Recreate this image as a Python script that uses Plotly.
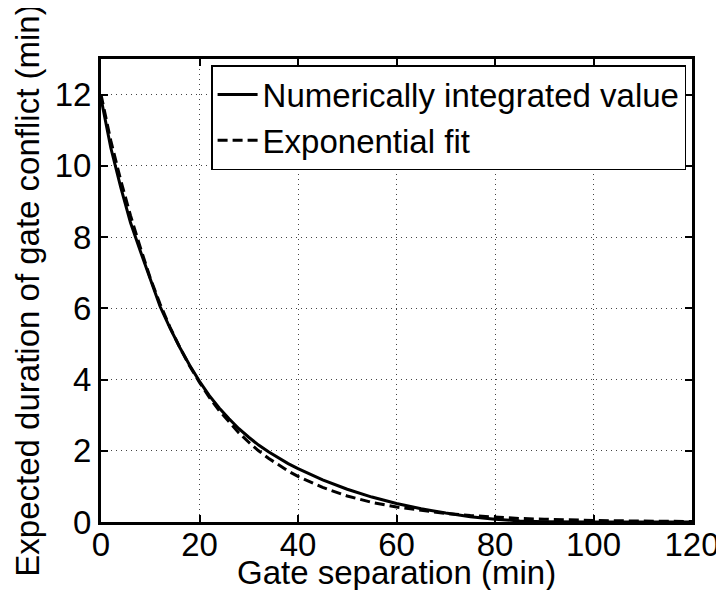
import plotly.graph_objects as go

# gate separation (min)
sep = [0, 2, 4, 6, 8, 10, 12, 14, 16, 18, 20, 22, 24, 26, 28, 30, 32, 34, 36, 38,
       40, 45, 50, 55, 60, 65, 70, 75, 80, 85, 90, 95, 100, 110, 120]

# expected duration of gate conflict (min)
numeric = [11.9, 10.5, 9.4, 8.4, 7.6, 6.8, 6.05, 5.45, 4.9, 4.4, 3.95, 3.55, 3.2, 2.9,
           2.62, 2.38, 2.16, 1.97, 1.8, 1.64, 1.5, 1.18, 0.92, 0.7, 0.52, 0.37, 0.25,
           0.15, 0.08, 0.03, 0.01, 0.0, 0.0, 0.0, 0.0]
fit = [12.0, 10.7, 9.6, 8.6, 7.7, 6.85, 6.12, 5.47, 4.9, 4.38, 3.92, 3.5, 3.13, 2.8,
       2.5, 2.24, 2.0, 1.79, 1.6, 1.43, 1.28, 0.97, 0.73, 0.55, 0.42, 0.32, 0.24,
       0.18, 0.135, 0.1, 0.077, 0.058, 0.044, 0.025, 0.014]

x_ticks = [0, 20, 40, 60, 80, 100, 120]
y_ticks = [0, 2, 4, 6, 8, 10, 12]

FONT = "Liberation Sans, Arial, Helvetica, sans-serif"

fig = go.Figure()
fig.add_trace(
    go.Scatter(
        x=sep, y=numeric, mode="lines", name="Numerically integrated value",
        line=dict(color="black", width=3),
    )
)
fig.add_trace(
    go.Scatter(
        x=sep, y=fit, mode="lines", name="Exponential fit",
        line=dict(color="black", width=3, dash="10px,5px"),
    )
)

axis_common = dict(
    showline=True, linewidth=3, linecolor="black", mirror="ticks",
    ticks="inside", ticklen=7, tickwidth=1.5, tickcolor="black",
    showgrid=True, gridcolor="#444", gridwidth=1, griddash="1px,4px",
    zeroline=False, ticklabeloverflow="allow",
    tickfont=dict(family=FONT, size=33, color="black"),
)

# pull the x tick labels up against the axis, matlab style
fig.update_xaxes(range=[0, 120], tickvals=x_ticks, ticklabelstandoff=-9, **axis_common)
fig.update_yaxes(
    range=[0, 13], tickvals=y_ticks,
    title=dict(text="Expected duration of gate conflict (min)",
               font=dict(family=FONT, size=33, color="black"), standoff=6),
    **axis_common,
)

# x title placed by hand so it sits right under the tick labels like the original
fig.add_annotation(
    text="Gate separation (min)", xref="paper", yref="paper",
    x=0.5, y=-0.108, xanchor="center", yanchor="middle", showarrow=False,
    font=dict(family=FONT, size=33, color="black"),
)

fig.update_layout(
    width=724, height=590, autosize=False,
    margin=dict(l=93, r=29, t=51, b=76),
    paper_bgcolor="white", plot_bgcolor="white",
    font=dict(family=FONT, color="black"),
    legend=dict(
        x=0.99, y=0.987, xanchor="right", yanchor="top",
        bgcolor="white", bordercolor="black", borderwidth=1.5,
        font=dict(family=FONT, size=33, color="black"),
        tracegroupgap=0, itemwidth=40,
    ),
)

fig.write_html("out.html")
